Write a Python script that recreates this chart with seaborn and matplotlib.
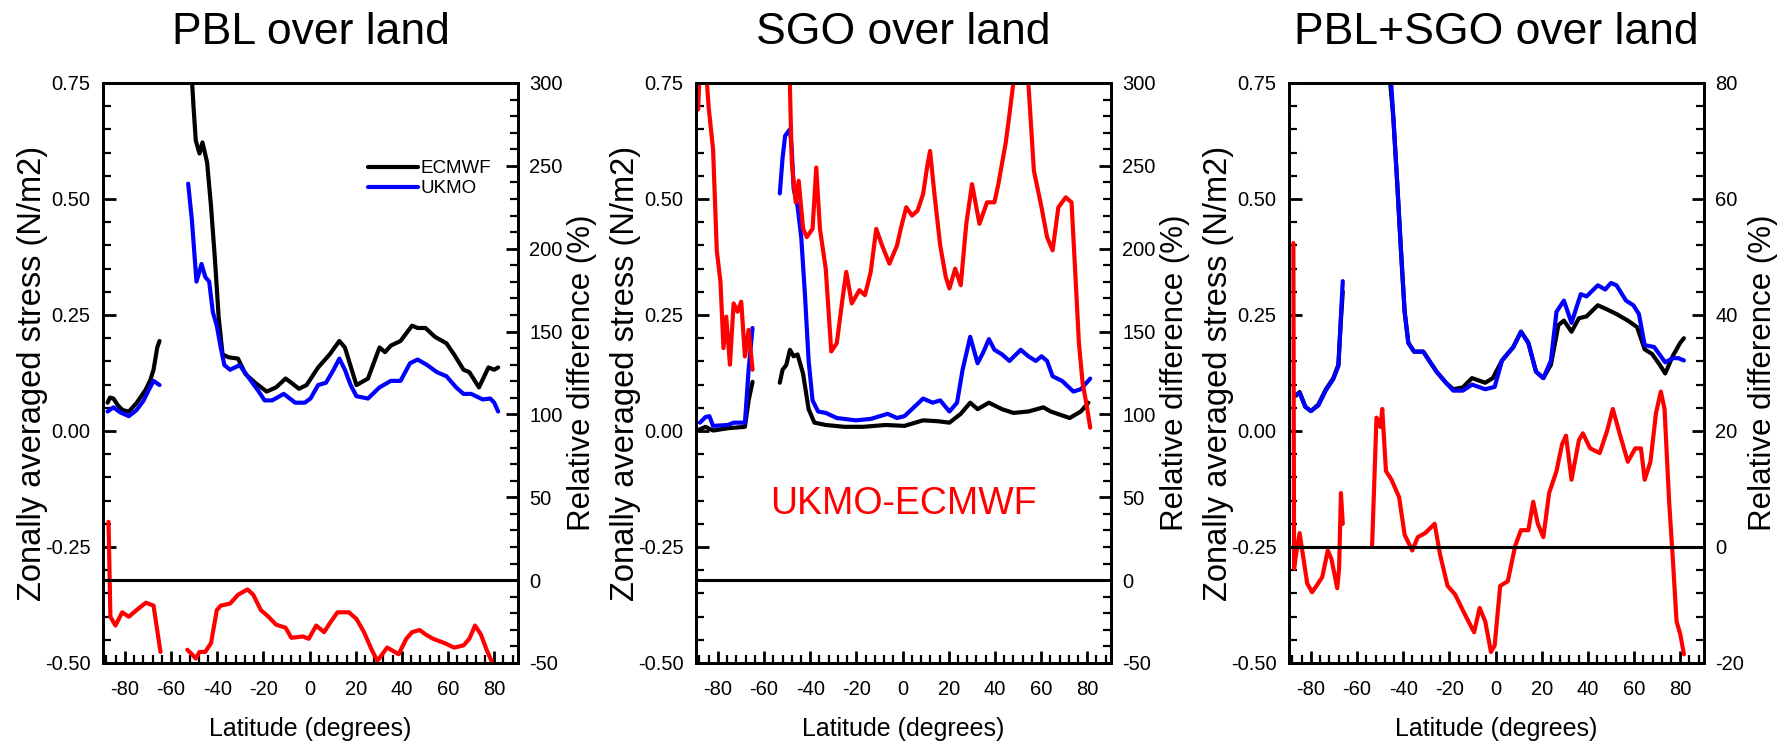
import matplotlib
matplotlib.use("Agg")
import matplotlib.pyplot as plt
import seaborn as sns
from matplotlib.lines import Line2D
from matplotlib.ticker import MultipleLocator, FormatStrFormatter

sns.set_style("ticks")
plt.rcParams["font.family"] = ["Liberation Sans", "DejaVu Sans"]
plt.rcParams["axes.unicode_minus"] = False
for key in ["text.color", "axes.labelcolor", "xtick.color", "ytick.color", "axes.edgecolor"]:
    plt.rcParams[key] = "black"

titles = ["PBL over land", "SGO over land", "PBL+SGO over land"]

# ---------------- PBL over land ----------------
pbl_ec_lat_a = [-87.5, -86.5, -85, -83, -81, -78.3, -75, -71, -69, -67.6, -66, -65]
pbl_ec_a = [0.061, 0.072, 0.070, 0.055, 0.045, 0.042, 0.060, 0.089, 0.110, 0.132, 0.180, 0.194]
pbl_ec_lat_b = [-51.5, -51.0, -50.3, -49.3, -47.7, -46.4, -44.4, -42.7, -41, -39.4, -37.7, -35.2,
                -31, -27.8, -23.6, -18.6, -14.5, -10.4, -7.9, -4.6, -1.3, 3.7, 8.7, 12.9, 15.3,
                20.3, 25.3, 30.3, 32.7, 35.2, 39.4, 44.4, 46.8, 50.2, 54.3, 59.3, 62.6, 66.7,
                69.2, 73.4, 77.5, 80, 81.7]
pbl_ec_b = [0.82, 0.76, 0.70, 0.626, 0.598, 0.622, 0.579, 0.484, 0.37, 0.246, 0.165, 0.159,
            0.156, 0.123, 0.104, 0.085, 0.094, 0.113, 0.104, 0.091, 0.099, 0.137, 0.165, 0.194,
            0.180, 0.099, 0.113, 0.180, 0.170, 0.184, 0.194, 0.227, 0.222, 0.222, 0.203, 0.189,
            0.165, 0.132, 0.127, 0.094, 0.137, 0.132, 0.137]
pbl_uk_lat_a = [-87.5, -85, -82, -78.3, -75, -72, -69.5, -67.6, -65]
pbl_uk_a = [0.042, 0.051, 0.040, 0.032, 0.045, 0.065, 0.090, 0.108, 0.099]
pbl_uk_lat_b = [-52.6, -51, -49, -46.8, -45.2, -43.5, -41.9, -40.2, -38.5, -36.9, -34.4, -30.3,
                -26.1, -22, -19.5, -16.2, -11.2, -6.2, -2.1, 0.4, 3.7, 7.1, 10.4, 12.9, 15.3,
                17.8, 20.3, 25.3, 30.3, 35.2, 39.4, 43.5, 46.8, 51, 55.1, 59.3, 63.5, 66.7, 70,
                75, 78.3, 80, 81.7]
pbl_uk_b = [0.533, 0.455, 0.322, 0.360, 0.332, 0.322, 0.256, 0.227, 0.180, 0.142, 0.132, 0.142,
            0.113, 0.085, 0.066, 0.066, 0.080, 0.061, 0.061, 0.070, 0.099, 0.104, 0.132, 0.156,
            0.132, 0.099, 0.075, 0.070, 0.094, 0.108, 0.108, 0.146, 0.154, 0.142, 0.127, 0.118,
            0.094, 0.080, 0.080, 0.068, 0.070, 0.061, 0.042]
pbl_rd_lat_a = [-87.1, -86.3, -84.1, -81.2, -78.3, -75, -70.9, -67.6, -64.6]
pbl_rd_a = [35.2, -22.1, -27.4, -19.4, -22.1, -18.1, -13.6, -15.4, -43.3]
pbl_rd_lat_b = [-53, -51, -49.3, -47.7, -45.2, -42.7, -40.2, -38.5, -34.4, -31, -26.9, -24.4,
                -21.1, -17.8, -14.5, -10.4, -7.9, -2.9, -0.4, 2.9, 6.3, 8.7, 12.1, 17, 20.3,
                23.6, 26.9, 29.4, 33.6, 38.6, 41.9, 44.4, 47.7, 50.2, 53.5, 58.5, 62.6, 66.7,
                69.2, 71.7, 74.2, 76.7, 79.2]
pbl_rd_b = [-42, -44.7, -47.3, -43.3, -43.3, -38, -18.1, -15.4, -14.1, -8.8, -5.6, -8.8,
            -18.1, -22.1, -26.9, -28.7, -34.8, -34, -35.4, -27.4, -31.4, -26.1, -19.4, -19.4,
            -23.4, -31.4, -42, -48.7, -40.7, -44.7, -35.4, -31.4, -30.1, -32.7, -35.4, -38,
            -40.7, -39.4, -35.4, -27.4, -32.7, -42, -50]

# ---------------- SGO over land ----------------
sgo_ec_lat_a = [-89.4, -85.4, -82.1, -75.6, -68.3, -66.7, -65]
sgo_ec_a = [0.0, 0.009, 0.001, 0.006, 0.009, 0.066, 0.106]
sgo_ec_lat_b = [-53.2, -52, -50.4, -48.8, -47.2, -45.5, -43.1, -40.7, -38.2, -33.3, -25.2,
                -17.1, -7.3, 0.8, 8.9, 15.4, 20.3, 25.2, 29.3, 32.5, 37.4, 43.1, 48, 54.5, 61,
                64.2, 72.4, 77.2, 80.5]
sgo_ec_b = [0.104, 0.132, 0.142, 0.175, 0.161, 0.165, 0.123, 0.047, 0.018, 0.013, 0.009,
            0.009, 0.013, 0.011, 0.023, 0.021, 0.018, 0.037, 0.061, 0.047, 0.061, 0.047, 0.039,
            0.042, 0.051, 0.042, 0.028, 0.042, 0.061]
sgo_uk_lat_a = [-87.8, -85.4, -83.7, -82.1, -75.6, -73.2, -68.3, -66.7, -65]
sgo_uk_a = [0.018, 0.030, 0.032, 0.011, 0.013, 0.018, 0.018, 0.132, 0.222]
sgo_uk_lat_b = [-53.2, -52, -50.9, -49.6, -48.8, -48, -47.2, -45.5, -43.9, -42.3, -40.7, -39,
                -36.6, -33.3, -28.5, -20.3, -13.8, -6.5, -2.4, 0.8, 4.9, 8.9, 13, 16.3, 20.3,
                23.6, 26, 29.3, 32.5, 35, 37.4, 39.8, 43.1, 46.3, 51.2, 54.5, 57.7, 60.2, 62.6,
                65, 69.1, 74, 77.2, 81.3]
sgo_uk_b = [0.512, 0.588, 0.636, 0.645, 0.650, 0.607, 0.522, 0.484, 0.417, 0.294, 0.151,
            0.066, 0.042, 0.039, 0.028, 0.023, 0.026, 0.037, 0.028, 0.032, 0.051, 0.070, 0.061,
            0.066, 0.042, 0.061, 0.132, 0.203, 0.146, 0.170, 0.198, 0.175, 0.165, 0.151, 0.175,
            0.161, 0.151, 0.161, 0.151, 0.118, 0.108, 0.085, 0.090, 0.113]
sgo_rd_lat_a = [-89.5, -88.6, -87.8, -86.5, -85, -84, -82.1, -80.5, -78.9, -77.6, -76.4,
                -74.8, -73.2, -71.5, -69.9, -68.3, -66.7, -65]
sgo_rd_a = [310, 284, 310, 315, 305, 285, 260, 199, 180, 140, 159, 130, 167, 162, 168, 135,
            151, 127]
sgo_rd_lat_b = [-49.2, -48, -46.3, -45, -43.1, -41.5, -39, -37.4, -35.8, -33.3, -30.9, -28.5,
                -26, -24.4, -22, -18.7, -16.3, -13.8, -11.4, -8.9, -5.7, -2.4, -0.8, 1.6, 4.1,
                6.5, 8.9, 10.6, 11.9, 13.8, 16.3, 18.7, 20.3, 22.8, 25.2, 27.6, 30.1, 33.3,
                36.6, 39.8, 41.5, 44.7, 46.3, 48, 51, 54.5, 56.9, 60.2, 62.6, 65, 67.5, 70.7,
                73.2, 74.8, 76.4, 78, 79.7, 81.3]
sgo_rd_b = [320, 252, 228, 241, 212, 207, 212, 249, 212, 188, 138, 143, 170, 186, 167, 175,
            172, 186, 212, 202, 191, 202, 212, 225, 220, 223, 233, 249, 259, 233, 202, 183,
            176, 188, 178, 215, 239, 215, 228, 228, 239, 264, 281, 300, 340, 300, 247, 225,
            207, 199, 225, 231, 228, 186, 143, 119, 106, 92]

# ---------------- PBL+SGO over land ----------------
tot_ec_lat_a = [-86.5, -84.9, -82.4, -80, -76.8, -73.5, -70.3, -68.1, -67, -66.2]
tot_ec_a = [0.076, 0.084, 0.052, 0.043, 0.057, 0.090, 0.114, 0.143, 0.240, 0.300]
tot_ec_lat_b = [-46.2, -44.3, -42.6, -41, -39.4, -37.8, -35.3, -31.3, -28.8, -25.6, -21.5,
                -18.3, -14.2, -10.2, -4.5, -1.2, 2.8, 7.7, 11, 14.2, 17.5, 20.7, 24, 27.2,
                29.6, 32.9, 36.1, 39.4, 44.3, 48.3, 52.4, 57.3, 61.3, 64.6, 67.8, 71.1, 73.5,
                76.8, 80, 81.6]
tot_ec_b = [0.78, 0.676, 0.533, 0.390, 0.257, 0.190, 0.171, 0.171, 0.152, 0.128, 0.104,
            0.090, 0.094, 0.114, 0.104, 0.114, 0.152, 0.181, 0.214, 0.190, 0.128, 0.114,
            0.143, 0.228, 0.238, 0.214, 0.243, 0.247, 0.271, 0.262, 0.252, 0.238, 0.224,
            0.176, 0.166, 0.143, 0.124, 0.162, 0.190, 0.200]
tot_uk_lat_a = [-86.5, -84.9, -82.4, -80, -76.8, -73.5, -70.3, -68.1, -67, -66.2]
tot_uk_a = [0.078, 0.082, 0.052, 0.043, 0.055, 0.088, 0.112, 0.140, 0.247, 0.323]
tot_uk_lat_b = [-45.6, -44.3, -42.6, -41, -39.4, -37.8, -35.3, -31.3, -28.8, -25.6, -21.5,
                -18.3, -14.2, -10.2, -4.5, -0.4, 2.8, 7.7, 11, 14.2, 17.5, 20.7, 24, 26.4,
                29.6, 32.9, 36.9, 39.4, 44.3, 47.5, 50, 52.4, 56.5, 59.7, 62.1, 64.6, 68.7,
                73.5, 76.8, 79.2, 81.6]
tot_uk_b = [0.78, 0.676, 0.533, 0.390, 0.257, 0.190, 0.171, 0.171, 0.152, 0.128, 0.104,
            0.087, 0.087, 0.100, 0.090, 0.095, 0.152, 0.181, 0.214, 0.190, 0.128, 0.114,
            0.152, 0.257, 0.281, 0.233, 0.295, 0.290, 0.314, 0.305, 0.319, 0.314, 0.281,
            0.271, 0.252, 0.185, 0.181, 0.148, 0.157, 0.157, 0.152]
tot_rd_lat_a = [-87.6, -87.3, -86.5, -84.9, -83.2, -81.6, -79.5, -77.6, -75.1, -72.7, -71.1,
                -68.6, -67.8, -67, -66.2]
tot_rd_a = [52.4, -3.7, -1.4, 2.4, -2.1, -6.3, -7.8, -6.7, -5.2, -0.6, -2.1, -7.1, -3.7, 9.3,
            4.0]
tot_rd_lat_b = [-53.5, -51.6, -49.9, -49.1, -47.5, -45.1, -41.8, -39.4, -36.1, -33.7, -30.5,
                -26.4, -24, -20.8, -17.5, -14.2, -11.8, -9.3, -6.9, -4.5, -2, -0.4, 2, 5.3,
                8.5, 11, 14.2, 16.3, 18.3, 20.7, 23.2, 26.4, 28.8, 30.5, 32.9, 36.1, 37.8, 41,
                45.1, 48.3, 50.8, 54, 57.3, 60.5, 63, 64.6, 67.1, 69.5, 71.6, 73.2, 75.2, 76.8,
                78.4, 80, 81.6]
tot_rd_b = [0.2, 22.3, 20.7, 23.8, 13.1, 11.6, 8.6, 2.1, -0.6, 1.7, 2.4, 4.0, -1.4, -6.7,
            -8.2, -10.9, -12.8, -14.7, -10.5, -12.8, -18.1, -17.0, -6.7, -5.9, 0.2, 2.9, 2.9,
            7.8, 4.0, 1.7, 9.3, 13.1, 17.7, 19.2, 11.6, 18.4, 19.6, 17.0, 16.2, 20.0, 23.8,
            19.2, 14.7, 17.0, 17.0, 11.6, 14.7, 23.1, 26.8, 23.8, 7.8, -2.1, -12.8, -15.0,
            -18.5]

panels = [
    {"ec": [(pbl_ec_lat_a, pbl_ec_a), (pbl_ec_lat_b, pbl_ec_b)],
     "uk": [(pbl_uk_lat_a, pbl_uk_a), (pbl_uk_lat_b, pbl_uk_b)],
     "rd": [(pbl_rd_lat_a, pbl_rd_a), (pbl_rd_lat_b, pbl_rd_b)],
     "rlim": (-50, 300), "rmaj": 50, "rmin": 10},
    {"ec": [(sgo_ec_lat_a, sgo_ec_a), (sgo_ec_lat_b, sgo_ec_b)],
     "uk": [(sgo_uk_lat_a, sgo_uk_a), (sgo_uk_lat_b, sgo_uk_b)],
     "rd": [(sgo_rd_lat_a, sgo_rd_a), (sgo_rd_lat_b, sgo_rd_b)],
     "rlim": (-50, 300), "rmaj": 50, "rmin": 10},
    {"ec": [(tot_ec_lat_a, tot_ec_a), (tot_ec_lat_b, tot_ec_b)],
     "uk": [(tot_uk_lat_a, tot_uk_a), (tot_uk_lat_b, tot_uk_b)],
     "rd": [(tot_rd_lat_a, tot_rd_a), (tot_rd_lat_b, tot_rd_b)],
     "rlim": (-20, 80), "rmaj": 20, "rmin": 4},
]

lefts = [103, 696, 1289]
W, H = 1777, 753
fig = plt.figure(figsize=(W / 100, H / 100), dpi=100)

line_w = 3.0
for i, p in enumerate(panels):
    ax = fig.add_axes([lefts[i] / W, (H - 663) / H, 415 / W, 580 / H])
    ax2 = ax.twinx()

    for lat, val in p["ec"]:
        sns.lineplot(x=lat, y=val, ax=ax, color="black", lw=line_w, estimator=None)
    for lat, val in p["uk"]:
        sns.lineplot(x=lat, y=val, ax=ax, color="#0000ff", lw=line_w, estimator=None)
    for lat, val in p["rd"]:
        sns.lineplot(x=lat, y=val, ax=ax2, color="#ff0000", lw=line_w, estimator=None)
    ax2.axhline(0, color="black", lw=2.2)

    ax.set_xlim(-89.5, 90.3)
    ax.set_ylim(-0.5, 0.75)
    ax2.set_ylim(*p["rlim"])

    ax.xaxis.set_major_locator(MultipleLocator(20))
    ax.xaxis.set_minor_locator(MultipleLocator(4))
    ax.yaxis.set_major_locator(MultipleLocator(0.25))
    ax.yaxis.set_minor_locator(MultipleLocator(0.05))
    ax.yaxis.set_major_formatter(FormatStrFormatter("%.2f"))
    ax2.yaxis.set_major_locator(MultipleLocator(p["rmaj"]))
    ax2.yaxis.set_minor_locator(MultipleLocator(p["rmin"]))

    for a in (ax, ax2):
        a.tick_params(which="major", direction="in", length=9, width=2, labelsize=14.5)
        a.tick_params(which="minor", direction="in", length=5.5, width=1.6)
        for s in a.spines.values():
            s.set_linewidth(2)
    ax.tick_params(axis="y", which="major", pad=9)
    ax.tick_params(axis="x", which="major", pad=12)
    ax2.tick_params(axis="y", which="major", pad=8)

    ax.set_xlabel("Latitude (degrees)", fontsize=18, labelpad=13)
    ax.set_ylabel("Zonally averaged stress (N/m2)", fontsize=23.5, labelpad=-2)
    ax2.set_ylabel("Relative difference (%)", fontsize=22.5, labelpad=3)
    ax.set_title(titles[i], fontsize=32, pad=28)

    if i == 0:
        handles = [Line2D([], [], color="black", lw=line_w),
                   Line2D([], [], color="#0000ff", lw=line_w)]
        ax.legend(handles, ["ECMWF", "UKMO"], loc="upper left",
                  bbox_to_anchor=(0.62, 0.88), frameon=False, fontsize=13.5,
                  handlelength=2.7, handletextpad=0.1, labelspacing=0.15,
                  borderaxespad=0)
    if i == 1:
        ax.text(0.50, 0.274, "UKMO-ECMWF", transform=ax.transAxes, color="#ff0000",
                fontsize=27, ha="center", va="center")

fig.savefig("out.png", dpi=100)
